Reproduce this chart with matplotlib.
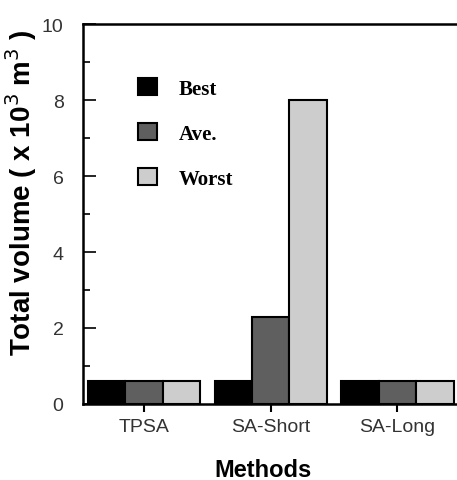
import matplotlib
matplotlib.use("Agg")
import matplotlib.pyplot as plt
import numpy as np

methods = ["TPSA", "SA-Short", "SA-Long"]
series = ["Best", "Ave.", "Worst"]
best = [0.6, 0.6, 0.6]
ave = [0.6, 2.3, 0.6]
worst = [0.6, 8.0, 0.6]
colors = ["#000000", "#5f5f5f", "#cdcdcd"]

fig = plt.figure(figsize=(4.57, 4.81), dpi=100)
ax = fig.add_axes([83/457, 1-405/481, (457-83)/457, (405-25)/481])

x = np.arange(len(methods))
w = 0.295
for i, (vals, c, lab) in enumerate(zip([best, ave, worst], colors, series)):
    ax.bar(x + (i-1)*w, vals, width=w, color=c, edgecolor="black", linewidth=1.5, label=lab)

ax.set_xlim(-0.48, 2.47)
ax.set_ylim(0, 10)
ax.set_xticks(x)
ax.set_xticklabels(methods, fontsize=14, family="Liberation Sans", color="#333333")
ax.set_yticks([0, 2, 4, 6, 8, 10])
ax.set_yticks([1, 3, 5, 7, 9], minor=True)
ax.tick_params(axis="y", which="major", direction="in", length=9, width=1.2, labelsize=14, pad=14)
ax.tick_params(axis="y", which="minor", direction="in", length=5, width=1.2)
ax.tick_params(axis="x", direction="out", length=6, width=1.5, pad=4)
for lbl in ax.get_yticklabels():
    lbl.set_family("Liberation Sans")
    lbl.set_color("#333333")
ax.spines["right"].set_visible(False)
for s in ["left", "top", "bottom"]:
    ax.spines[s].set_linewidth(1.8)

ax.set_ylabel("Total volume ( x 10$^3$ m$^3$ )", fontsize=20, fontweight="bold", family="Liberation Sans")
ax.yaxis.set_label_coords(-0.117, 0.558)
ax.set_xlabel("Methods", fontsize=17, fontweight="bold", family="Liberation Sans")
ax.xaxis.set_label_coords(0.48, -0.143)

leg = ax.legend(loc="upper left", bbox_to_anchor=(0.097, 0.908), frameon=False,
                prop={"family": "Liberation Serif", "weight": "bold", "size": 15},
                handlelength=0.92, handleheight=0.92, labelspacing=1.15, handletextpad=1.05)

fig.savefig("out.png", dpi=100)
